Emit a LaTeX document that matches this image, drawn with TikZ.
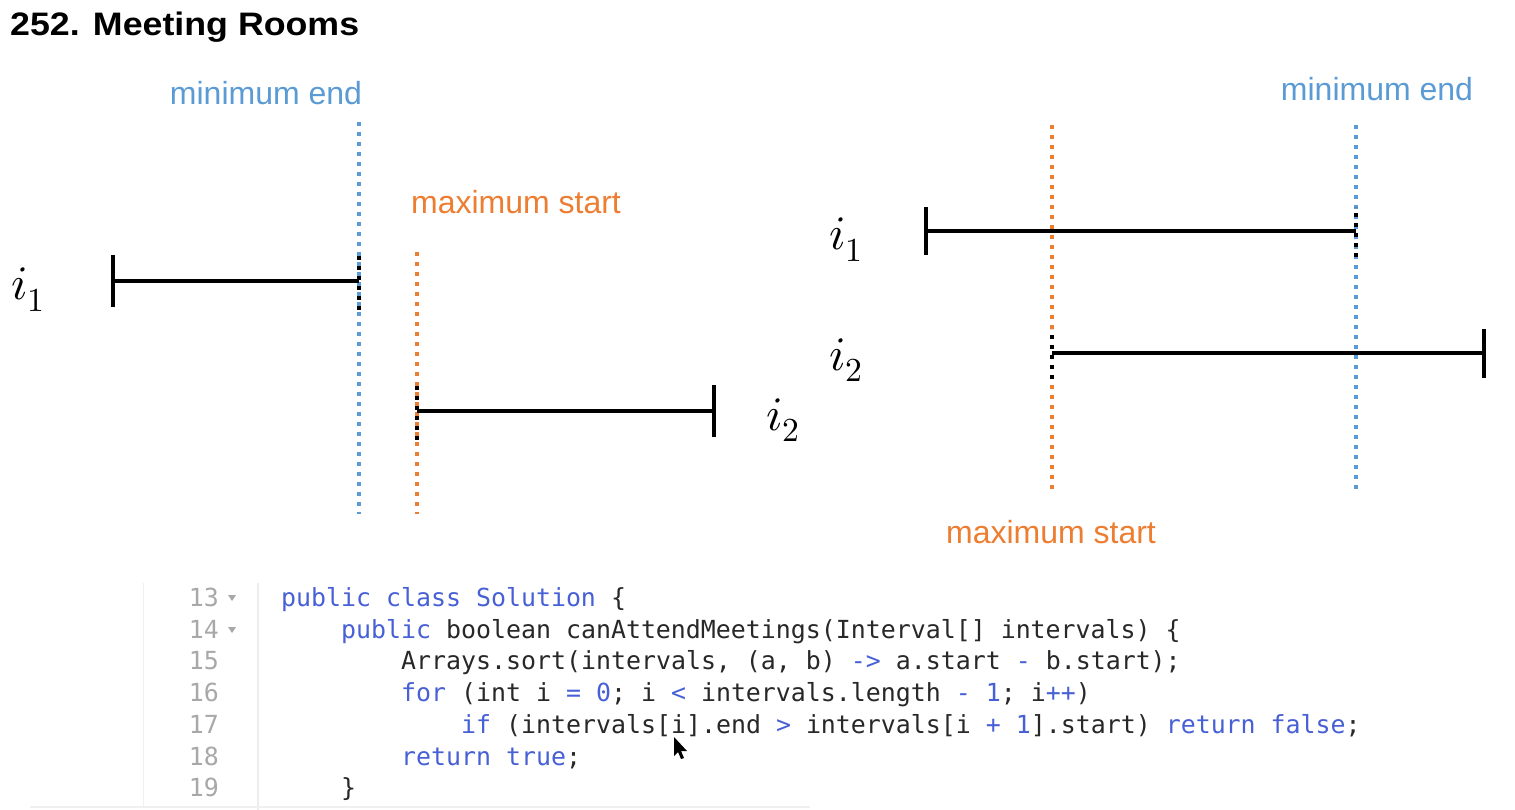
\documentclass[tikz,border=0pt]{standalone}
\usepackage{fontspec}
\setmainfont{Liberation Sans}
\setmonofont{DejaVu Sans Mono}
\newfontfamily\titlefont[FakeStretch=1.1]{Liberation Sans}
\usepackage{unicode-math}
\setmathfont{Latin Modern Math}
\definecolor{mblue}{RGB}{91,155,213}
\definecolor{morange}{RGB}{237,125,49}
\definecolor{kw}{RGB}{72,96,214}
\definecolor{codetxt}{RGB}{40,40,40}
\definecolor{lnum}{RGB}{168,168,168}
\tikzset{
  bar/.style={line width=4pt, black},
  vdot/.style={line width=3.8pt, dash pattern=on 3.8pt off 6.2pt},
  tickdot/.style={line width=4.5pt, black, dash pattern=on 3.8pt off 6.2pt},
  lab/.style={font=\fontsize{32}{36}\selectfont, anchor=base, inner sep=0pt},
  ivar/.style={font=\fontsize{48}{52}\selectfont, anchor=base, inner sep=0pt},
  code/.style={font=\ttfamily\fontsize{24.9}{28}\selectfont, text=codetxt, anchor=base west, inner sep=0pt},
  lno/.style={font=\ttfamily\fontsize{24.9}{28}\selectfont, text=lnum, anchor=base east, inner sep=0pt},
}
\newcommand{\kwc}[1]{\textcolor{kw}{#1}}
\begin{document}
\begin{tikzpicture}[x=1pt,y=-1pt]
\useasboundingbox (0,0) rectangle (1515,810);
\fill[white] (0,0) rectangle (1515,810);

% title
\node[anchor=base west, inner sep=0pt, font=\titlefont\bfseries\fontsize{32.5}{36}\selectfont] (title) at (10,36) {252. Meeting Rooms};

% ---------- left diagram ----------
\node[lab, text=mblue] (minL) at (266,105) {minimum end};
\node[lab, text=morange] (maxL) at (516,214) {maximum start};
\coordinate (bLt) at (359,122); \coordinate (bLb) at (359,514);
\coordinate (oLt) at (417,252); \coordinate (oLb) at (417,514);
\draw[vdot, mblue] (bLt) -- (bLb);
\draw[vdot, morange] (oLt) -- (oLb);

\node[ivar] (i1L) at (28,300) {$i_1$};
\coordinate (a1s) at (113,281); \coordinate (a1e) at (359,281);
\draw[bar] (a1s) -- (a1e);
\draw[bar] ([yshift=-26pt]a1s) -- ([yshift=26pt]a1s);
\draw[tickdot] ([yshift=-29pt]a1e) -- ([yshift=26pt]a1e);

\node[ivar] (i2L) at (783,430) {$i_2$};
\coordinate (a2s) at (417,411); \coordinate (a2e) at (714,411);
\draw[bar] (a2s) -- (a2e);
\draw[tickdot] ([yshift=-29pt]a2s) -- ([yshift=26pt]a2s);
\draw[bar] ([yshift=-26pt]a2e) -- ([yshift=26pt]a2e);

% ---------- right diagram ----------
\node[lab, text=mblue] (minR) at (1377,101) {minimum end};
\node[lab, text=morange] (maxR) at (1051,543) {maximum start};
\coordinate (bRt) at (1356,125); \coordinate (bRb) at (1356,490);
\coordinate (oRt) at (1052,125); \coordinate (oRb) at (1052,490);
\draw[vdot, mblue] (bRt) -- (bRb);
\draw[vdot, morange] (oRt) -- (oRb);

\node[ivar] (i1R) at (846,250) {$i_1$};
\coordinate (b1s) at (926,231); \coordinate (b1e) at (1356,231);
\draw[bar] (b1s) -- (b1e);
\draw[bar] ([yshift=-24pt]b1s) -- ([yshift=24pt]b1s);
\draw[tickdot] ([yshift=-26pt]b1e) -- ([yshift=24pt]b1e);

\node[ivar] (i2R) at (846,370) {$i_2$};
\coordinate (b2s) at (1052,353); \coordinate (b2e) at (1484,353);
\draw[bar] (b2s) -- (b2e);
\draw[tickdot] ([yshift=-26pt]b2s) -- ([yshift=24pt]b2s);
\draw[bar] ([yshift=-25pt]b2e) -- ([yshift=24pt]b2e);

% ---------- code ----------
\draw[gray!12, line width=1pt] (143,583) -- (143,806);
\draw[gray!15, line width=1.2pt] (258,583) -- (258,810);
\draw[gray!12, line width=1.5pt] (30,807) -- (810,807);

\foreach \n/\y in {13/606,14/638,15/669.5,16/701,17/733,18/765,19/796}{
  \node[lno] (ln\n) at (219,\y) {\n};
}
\fill[lnum] (228,595) -- (236,595) -- (232,601) -- cycle;
\fill[lnum] (228,627) -- (236,627) -- (232,633) -- cycle;

\node[code] (c13) at (281,606) {\kwc{public class Solution} \{};
\node[code] (c14) at (341,638) {\kwc{public} boolean canAttendMeetings(Interval[] intervals) \{};
\node[code] (c15) at (401,669.5) {Arrays.sort(intervals, (a, b) \kwc{->} a.start \kwc{-} b.start);};
\node[code] (c16) at (401,701) {\kwc{for} (int i \kwc{=} \kwc{0}; i \kwc{<} intervals.length \kwc{-} \kwc{1}; i\kwc{++})};
\node[code] (c17) at (461,733) {\kwc{if} (intervals[i].end \kwc{>} intervals[i \kwc{+} \kwc{1}].start) \kwc{return false};};
\node[code] (c18) at (401,765) {\kwc{return true};};
\node[code] (c19) at (341,796) {\}};

% mouse cursor
\fill[black] (674,737) -- (674,756) -- (678,752) -- (681,759) -- (684,758) -- (681,751) -- (687,751) -- cycle;
\end{tikzpicture}
\end{document}
